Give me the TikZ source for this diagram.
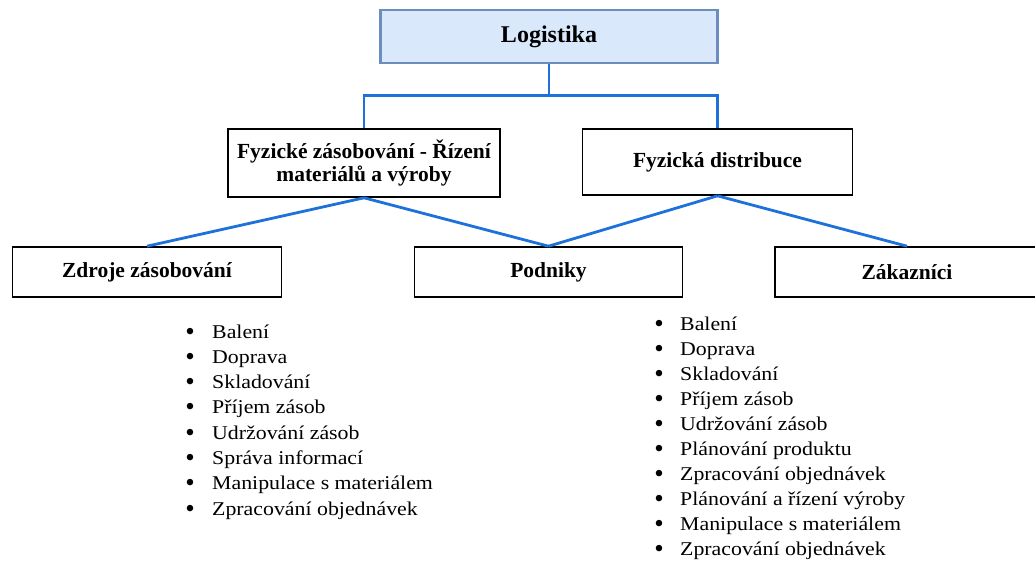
\documentclass[tikz,border=0pt]{standalone}
\usepackage{fontspec}
\setmainfont{Liberation Serif}
\newfontfamily\listfont[FakeStretch=1.12]{Liberation Serif}
\definecolor{linkblue}{RGB}{30,112,218}
\definecolor{topfill}{RGB}{218,232,252}
\definecolor{topdraw}{RGB}{108,142,191}
\begin{document}
\begin{tikzpicture}[x=1pt,y=-1pt,
  box/.style={draw=black, line width=1.6pt, fill=white, inner sep=0pt, align=center,
    font=\fontsize{21.5}{26}\selectfont\bfseries},
  topbox/.style={draw=topdraw, line width=2.6pt, fill=topfill, inner sep=0pt,
    font=\fontsize{24}{28}\selectfont\bfseries},
  link/.style={draw=linkblue, line width=2.8pt},
  item/.style={anchor=base west, inner sep=0pt, font=\listfont\fontsize{19.5}{24}\selectfont},
  dot/.style={anchor=base, inner sep=0pt, font=\fontsize{27}{30}\selectfont}
]
\useasboundingbox (0,0) rectangle (1035,563);

% tree of boxes
\node[topbox, minimum width=337, minimum height=53] (log) at (549,36.5) {\raisebox{-2pt}{Logistika}};
\node[box, minimum width=272, minimum height=68] (sup) at (364,163)
  {\raisebox{-2pt}{\shortstack{Fyzické zásobování - Řízení\\materiálů a výroby}}};
\node[box, minimum width=270, minimum height=66] (dis) at (717.5,162) {Fyzická distribuce};
\node[box, minimum width=269, minimum height=50] (src) at (147,272) {Zdroje zásobování};
\node[box, minimum width=268, minimum height=50] (ent) at (548.5,272) {Podniky};
\node[box, minimum width=264, minimum height=50] (cus) at (907,272) {Zákazníci};

% connectors
\coordinate (fork) at (549,95.5);
\draw[link] (log.south) -- (fork) -| (sup.north);
\draw[link] (fork) -| (dis.north);
\draw[link] (sup.south) -- (src.north);
\draw[link] (sup.south) -- (ent.north);
\draw[link] (dis.south) -- (ent.north);
\draw[link] (dis.south) -- (cus.north);

% activities on the supply side
\foreach \t [count=\i] in {Balení, Doprava, Skladování, Příjem zásob, Udržování zásob,
    Správa informací, Manipulace s materiálem, Zpracování objednávek} {
  \node[dot] (lb\i) at (190, 340+25.3*\i-25.3) {\textbullet};
  \node[item] (lt\i) at (212, 338+25.3*\i-25.3) {\t};
}

% activities on the distribution side
\foreach \t [count=\i] in {Balení, Doprava, Skladování, Příjem zásob, Udržování zásob,
    Plánování produktu, Zpracování objednávek, Plánování a řízení výroby,
    Manipulace s materiálem, Zpracování objednávek} {
  \node[dot] (rb\i) at (659, 332+25.1*\i-25.1) {\textbullet};
  \node[item] (rt\i) at (680, 330+25.1*\i-25.1) {\t};
}
\end{tikzpicture}
\end{document}
